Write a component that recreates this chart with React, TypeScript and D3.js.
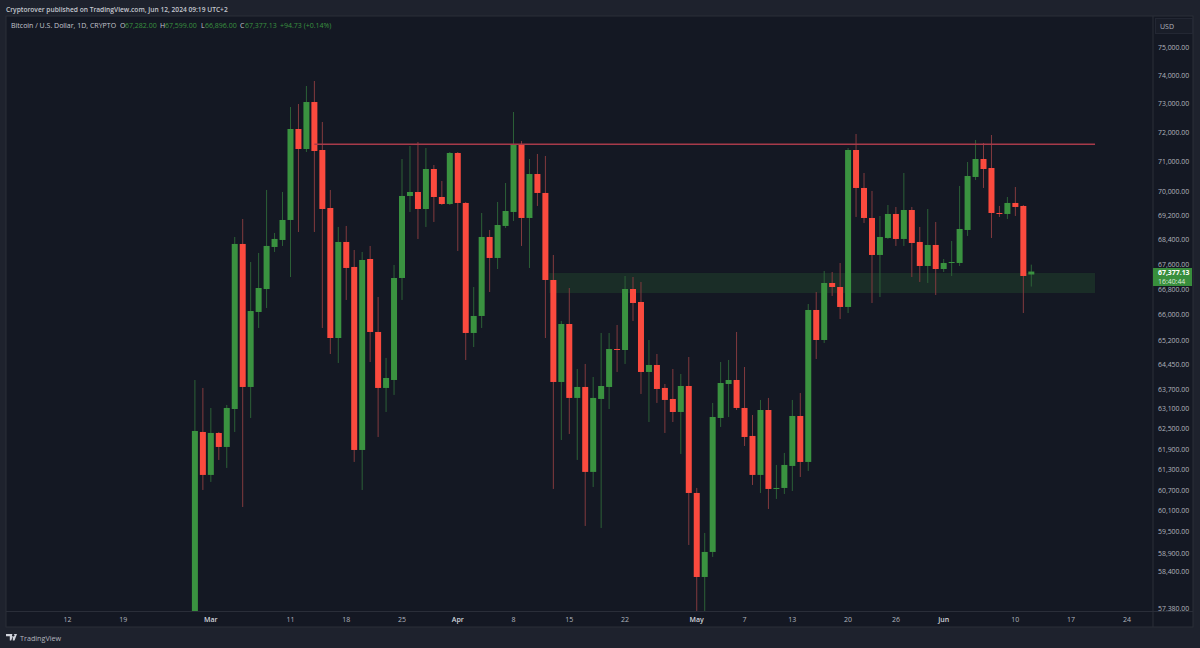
import React from "react";
import * as d3 from "d3";

// daily candles, first one is 2024-02-28
const firstDay = Date.UTC(2024, 1, 28);
const DAY = 86400000;

const opens = [
  56500, 62410, 61143, 62380, 61965, 63098, 68270, 63765, 66089, 66818, 68172, 68400, 69056, 72121, 71436, 73056,
  71402, 69452, 65273, 68335, 67524, 61876, 67782, 65461, 63735, 63978, 67170, 69852, 69985, 69419, 70757, 69818,
  69585, 71300, 69619, 65430, 65963, 68498, 67815, 68859, 69320, 71607, 69122, 70588, 69952, 67106, 63917, 65711,
  63432, 63765, 61231, 63401, 63765, 64931, 64900, 66818, 66405, 64223, 64438, 63735, 63401, 63008, 63795, 60619,
  58236, 58936, 62828, 63856, 63978, 63129, 62291, 61143, 63068, 60735, 60764, 61406, 62888, 61523, 66152, 65211,
  67010, 66882, 66247, 71402, 70119, 69122, 67912, 68465, 69254, 68433, 69386, 68335, 67556, 68237, 67459, 67653,
  67653, 68727, 70488, 71096, 70791, 69287, 69254, 69619, 69519, 67282,
];
const highs = [
  63978, 63735, 63129, 62410, 63220, 68498, 69089, 67685, 67977, 70052, 68629, 69985, 72882, 72987, 73617, 73793,
  72363, 70052, 68826, 68859, 68074, 68009, 68205, 66564, 64654, 67589, 71096, 71539, 71676, 71470, 70892, 70353,
  71334, 71334, 69652, 66882, 69287, 68727, 69652, 70286, 72709, 71710, 71096, 71266, 71198, 67912, 65806, 66850,
  64315, 64469, 64070, 65430, 65430, 65680, 67234, 67202, 67042, 65211, 64777, 63856, 64315, 64162, 64684, 60764,
  59473, 63281, 64530, 64592, 65461, 64376, 62918, 63371, 63432, 61435, 61788, 63371, 63583, 66342, 66722, 67395,
  67363, 67653, 71470, 71950, 70622, 70019, 69188, 69552, 69486, 70622, 69486, 68826, 69419, 68990, 67782, 68367,
  70186, 70994, 71744, 71642, 71915, 69519, 69818, 70152, 69552, 67599,
];
const lows = [
  56000, 60706, 60939, 61582, 61347, 62410, 60215, 62828, 65586, 66215, 68009, 68205, 67202, 68661, 71334, 68661,
  65586, 64777, 64499, 66469, 61523, 60706, 64530, 62261, 63008, 63523, 66469, 69320, 68433, 68826, 68990, 69552,
  69552, 68042, 64592, 64993, 65586, 66722, 67459, 68793, 69023, 68205, 67492, 69519, 65273, 60735, 62172, 62350,
  61582, 59672, 60793, 59615, 63098, 64223, 64469, 65806, 63553, 62708, 63281, 62380, 62708, 61758, 59133, 56800,
  56900, 58796, 62560, 62858, 63068, 61994, 60851, 60619, 60158, 60446, 60590, 60677, 61084, 61260, 64623, 65118,
  66596, 65868, 66057, 69155, 68957, 66373, 66564, 68433, 68205, 68205, 67202, 67042, 67010, 66627, 67363, 67234,
  67556, 68531, 70387, 70119, 68465, 69155, 69089, 69188, 66057, 66896,
];
const closes = [
  62440, 61143, 62380, 61965, 63129, 68270, 63765, 66120, 66850, 68205, 68433, 69056, 72121, 71436, 73056, 71368,
  69419, 65273, 68335, 67492, 61876, 67750, 65461, 63735, 64039, 67170, 69852, 69985, 69419, 70757, 69818, 69585,
  71300, 69619, 65430, 65963, 68498, 67815, 68891, 69353, 71607, 69122, 70588, 69952, 67106, 63917, 65711, 63432,
  63765, 61231, 63432, 63795, 64931, 64900, 66818, 66373, 64223, 64438, 63704, 63371, 63008, 63795, 60619, 58236,
  58936, 62858, 63886, 63978, 63129, 62261, 61143, 63068, 60735, 60764, 61435, 62888, 61523, 66152, 65211, 67010,
  66882, 66247, 71402, 70119, 69122, 67912, 68498, 69254, 68433, 69386, 68302, 67556, 68237, 67459, 67653, 67685,
  68760, 70521, 71096, 70757, 69287, 69254, 69619, 69486, 67234, 67377.13,
];

const priceTicks = [
  75000, 74000, 73000, 72000, 71000, 70000, 69200, 68400, 67600, 66800, 66000, 65200, 64450, 63700, 63100, 62500,
  61900, 61300, 60700, 60100, 59500, 58900, 58400, 57380,
];
const timeTicks: [string, string, boolean][] = [
  ["2024-02-12", "12", false],
  ["2024-02-19", "19", false],
  ["2024-03-01", "Mar", true],
  ["2024-03-11", "11", false],
  ["2024-03-18", "18", false],
  ["2024-03-25", "25", false],
  ["2024-04-01", "Apr", true],
  ["2024-04-08", "8", false],
  ["2024-04-15", "15", false],
  ["2024-04-22", "22", false],
  ["2024-05-01", "May", true],
  ["2024-05-07", "7", false],
  ["2024-05-13", "13", false],
  ["2024-05-20", "20", false],
  ["2024-05-26", "26", false],
  ["2024-06-01", "Jun", true],
  ["2024-06-10", "10", false],
  ["2024-06-17", "17", false],
  ["2024-06-24", "24", false],
];

const resistance = 71600;
const zoneTop = 67331;
const zoneBottom = 66690;

const UP = "#3a9240";
const DOWN = "#fb4a3e";
const UP_WICK = "#2c6137";
const DOWN_WICK = "#823a3e";
const FONT = "'Open Sans', Roboto, sans-serif";

const x = d3.scaleUtc().domain([new Date(firstDay), new Date(Date.UTC(2024, 5, 12))]).range([194.9, 1031.3]);
const y = d3.scaleLog().domain([75000, 57380]).range([47, 608]);
const fmt = d3.format(",.2f");

const candles = closes.map((c, i) => ({
  date: new Date(firstDay + i * DAY),
  open: opens[i],
  high: highs[i],
  low: lows[i],
  close: c,
}));

const zoneStart = new Date(Date.UTC(2024, 3, 12, 12));
const lineStart = new Date(Date.UTC(2024, 2, 14));
const drawEnd = new Date(Date.UTC(2024, 5, 20));

export default function App() {
  const bodyW = 6;
  const last = closes.length - 1;
  return (
    <svg
      width={1200}
      height={648}
      style={{ position: "absolute", left: 0, top: 0, fontFamily: FONT }}
    >
      <rect width={1200} height={648} fill="#1e222d" />
      <rect x={6} y={16} width={1187} height={611} fill="#141823" stroke="#2a2e39" strokeWidth={1} />

      <defs>
        <clipPath id="plot">
          <rect x={7} y={17} width={1146} height={594} />
        </clipPath>
      </defs>

      <g clipPath="url(#plot)">
        {/* support zone and resistance line sit behind the candles */}
        <rect
          x={x(zoneStart)}
          y={y(zoneTop)}
          width={x(drawEnd) - x(zoneStart)}
          height={y(zoneBottom) - y(zoneTop)}
          fill="#388e3c"
          fillOpacity={0.18}
        />
        {candles.map((d, i) => {
          const up = d.close >= d.open;
          const top = y(Math.max(d.open, d.close));
          const bot = y(Math.min(d.open, d.close));
          const cx = x(d.date);
          return (
            <g key={i}>
              <line
                x1={cx}
                x2={cx}
                y1={y(d.high)}
                y2={y(d.low)}
                stroke={up ? UP_WICK : DOWN_WICK}
                strokeWidth={1}
              />
              <rect
                x={cx - bodyW / 2}
                y={top}
                width={bodyW}
                height={Math.max(bot - top, 1)}
                fill={up ? UP : DOWN}
              />
            </g>
          );
        })}
        <line
          x1={x(lineStart)}
          x2={x(drawEnd)}
          y1={y(resistance)}
          y2={y(resistance)}
          stroke="#a83a4a"
          strokeWidth={1.4}
        />
      </g>

      {/* price axis */}
      <line x1={1153} x2={1153} y1={16} y2={627} stroke="#2a2e39" />
      <rect x={1155.5} y={18.5} width={37} height={15} fill="#191d28" stroke="#232733" />
      <text x={1160} y={28.5} fontSize={7} fill="#b2b5be">
        USD
      </text>
      {priceTicks.map((t) => (
        <text key={t} x={1158} y={y(t) + 2.5} fontSize={6.9} fill="#b2b5be">
          {fmt(t)}
        </text>
      ))}
      <rect x={1153} y={268} width={39} height={18} fill="#388e3c" />
      <text x={1158} y={275} fontSize={6.9} fontWeight={700} fill="#ffffff">
        {fmt(closes[last])}
      </text>
      <text x={1158} y={284} fontSize={6.9} fill="#d7e8d8">
        16:40:44
      </text>

      {/* time axis */}
      <line x1={6} x2={1193} y1={611.5} y2={611.5} stroke="#2a2e39" />
      {timeTicks.map(([d, label, major]) => (
        <text
          key={d}
          x={x(new Date(d))}
          y={622}
          fontSize={7}
          textAnchor="middle"
          fontWeight={major ? 600 : 400}
          fill={major ? "#d1d4dc" : "#b2b5be"}
        >
          {label}
        </text>
      ))}

      {/* header */}
      <text x={6} y={11.5} fontSize={6.65} fontWeight={600} fill="#c4c7cf">
        Cryptorover published on TradingView.com, Jun 12, 2024 09:19 UTC+2
      </text>
      <text y={27.5} fontSize={7} fill="#c4c7cf">
        <tspan x={11}>Bitcoin / U.S. Dollar, 1D, CRYPTO</tspan>
        <tspan x={120}>O</tspan>
        <tspan x={125} fill="#3a9240">{fmt(opens[last])}</tspan>
        <tspan x={160}>H</tspan>
        <tspan x={165} fill="#3a9240">{fmt(highs[last])}</tspan>
        <tspan x={201}>L</tspan>
        <tspan x={205} fill="#3a9240">{fmt(lows[last])}</tspan>
        <tspan x={240}>C</tspan>
        <tspan x={245} fill="#3a9240">{fmt(closes[last])}</tspan>
        <tspan x={280} fill="#3a9240">+94.73 (+0.14%)</tspan>
      </text>

      {/* footer logo */}
      <path d="M6 634h6.8v6.6h-3v-4.3H6z M17 634h-3.4l-2.4 6.6h3.3z" fill="#d1d4dc" />
      <circle cx={13.2} cy={635.3} r={1.2} fill="#1e222d" />
      <text x={20} y={640.8} fontSize={7.2} fill="#b2b5be">
        TradingView
      </text>
    </svg>
  );
}
